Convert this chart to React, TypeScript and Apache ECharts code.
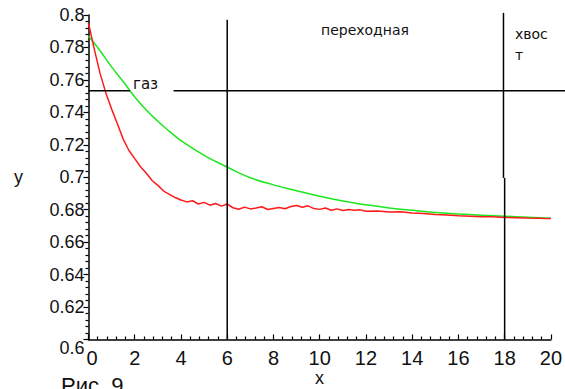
import React, { useEffect, useRef } from "react";
import * as echarts from "echarts";

// Green curve (smooth decay)
const greenX = [0, 0.5, 1, 1.5, 2, 2.5, 3, 3.5, 4, 5, 6, 7, 8, 9, 10, 11, 12, 13, 14, 15, 16, 17, 18, 19, 20];
const greenY = [0.787, 0.778, 0.768, 0.759, 0.7495, 0.7415, 0.7345, 0.7283, 0.7226, 0.7135, 0.7063, 0.6997, 0.6953, 0.6917, 0.6883, 0.6853, 0.683, 0.6811, 0.6796, 0.6783, 0.6774, 0.6766, 0.676, 0.6753, 0.6747];

// Red curve (fast decay with noise)
const redX = [
  0, 0.25, 0.5, 0.75, 1, 1.25, 1.5, 1.75, 2, 2.25, 2.5, 2.75, 3, 3.25, 3.5, 3.75,
  4, 4.25, 4.5, 4.75, 5, 5.25, 5.5, 5.75, 6, 6.25, 6.5, 6.75, 7, 7.25, 7.5, 7.75,
  8, 8.25, 8.5, 8.75, 9, 9.25, 9.5, 9.75, 10, 10.25, 10.5, 10.75, 11, 11.25, 11.5, 11.75,
  12, 12.5, 13, 13.5, 14, 14.5, 15, 15.5, 16, 16.5, 17, 17.5, 18, 18.5, 19, 19.5, 19.8, 20,
];
const redY = [
  0.795, 0.779, 0.764, 0.752, 0.742, 0.733, 0.7235, 0.7165, 0.7115, 0.7065, 0.7025, 0.698, 0.695, 0.6915, 0.6895, 0.6875,
  0.686, 0.6848, 0.6855, 0.6835, 0.6845, 0.6828, 0.6838, 0.6822, 0.6835, 0.6812, 0.6803, 0.6816, 0.6805, 0.681, 0.6818, 0.6801,
  0.6808, 0.6814, 0.6806, 0.682, 0.6826, 0.6815, 0.6824, 0.6807, 0.6802, 0.681, 0.6797, 0.6805, 0.6795, 0.6801, 0.6796, 0.6799,
  0.6791, 0.6792, 0.6786, 0.6788, 0.6779, 0.6776, 0.6771, 0.6767, 0.6763, 0.676, 0.6757, 0.6756, 0.6752, 0.6751, 0.6749, 0.6748, 0.6745, 0.6746,
];

// Reference lines in data units
const gasLevel = 0.7533;
const vLines = [
  { x: 6, y0: 0.6, y1: 0.797 },
  { x: 17.95, y0: 0.6996, y1: 0.8013 },
  { x: 18, y0: 0.6, y1: 0.6996 },
];
const hLines = [
  { y: gasLevel, x0: 0, x1: 1.8 },
  { y: gasLevel, x0: 3.68, x1: 20.65 },
];
const xTicks = { min: 0, max: 20, interval: 2 };
const yTicks = { min: 0.6, max: 0.8, interval: 0.02 };

export default function App() {
  const ref = useRef<HTMLDivElement>(null);
  useEffect(() => {
    document.body.style.margin = "0";
    const chart = echarts.init(ref.current!, undefined, { renderer: "svg" });
    const black = "#000";
    const tickFont = "'Liberation Sans', Arial, sans-serif";
    chart.setOption({
      animation: false,
      backgroundColor: "#fff",
      grid: { left: 88.5, right: 14, top: 15, bottom: 49.5 },
      xAxis: {
        type: "value",
        min: xTicks.min,
        max: xTicks.max,
        interval: xTicks.interval,
        splitLine: { show: false },
        axisLine: { lineStyle: { color: black, width: 1.5 } },
        axisTick: { inside: true, length: 5, lineStyle: { color: black, width: 1.2 } },
        minorTick: { show: true, splitNumber: 5, length: 3, lineStyle: { color: black, width: 1.2 } },
        axisLabel: {
          color: "#111",
          fontFamily: tickFont,
          fontSize: 20,
          margin: 8,
          formatter: (v: number) => (v === 0 ? "{zero|0}" : String(v)),
          rich: {
            zero: { fontFamily: tickFont, fontSize: 20, color: "#111", padding: [0, 0, 0, 7] },
          },
        },
      },
      yAxis: {
        type: "value",
        min: yTicks.min,
        max: yTicks.max,
        interval: yTicks.interval,
        splitLine: { show: false },
        axisLine: { show: true, lineStyle: { color: black, width: 1.5 } },
        axisTick: { show: true, inside: false, length: 5, lineStyle: { color: black, width: 1.2 } },
        minorTick: { show: true, splitNumber: 5, length: 3, lineStyle: { color: black, width: 1.2 } },
        axisLabel: {
          color: "#111",
          fontFamily: tickFont,
          fontSize: 18,
          margin: 4,
          formatter: (v: number) => {
            const s = String(+v.toFixed(2));
            return Math.abs(v - 0.6) < 1e-9 ? "{low|" + s + "}" : s;
          },
          rich: {
            low: { fontFamily: tickFont, fontSize: 18, color: "#111", padding: [16, 0, 0, 0] },
          },
        },
      },
      series: [
        {
          type: "line",
          data: greenX.map((x, i) => [x, greenY[i]]),
          smooth: true,
          symbol: "none",
          lineStyle: { color: "#1ee61e", width: 1.5 },
          z: 3,
        },
        {
          type: "line",
          data: redX.map((x, i) => [x, redY[i]]),
          smooth: false,
          symbol: "none",
          lineStyle: { color: "#ff1a1a", width: 1.5 },
          z: 4,
        },
      ],
    });

    const px = (x: number, y: number) => chart.convertToPixel({ gridIndex: 0 }, [x, y]) as number[];
    const lineEls: any[] = [];
    vLines.forEach((l) => {
      const a = px(l.x, l.y0);
      const b = px(l.x, l.y1);
      lineEls.push({
        type: "line",
        shape: { x1: a[0], y1: a[1], x2: b[0], y2: b[1] },
        style: { stroke: black, lineWidth: 1.5 },
        z: 5,
      });
    });
    hLines.forEach((l) => {
      const a = px(l.x0, l.y);
      const b = px(l.x1, l.y);
      lineEls.push({
        type: "line",
        shape: { x1: a[0], y1: a[1], x2: b[0], y2: b[1] },
        style: { stroke: black, lineWidth: 1.5 },
        z: 5,
      });
    });

    chart.setOption({
      graphic: [
        ...lineEls,
        { type: "text", left: 14, top: 168, style: { text: "y", font: "18px 'Liberation Sans', Arial, sans-serif", fill: "#111" } },
        { type: "text", left: 315, top: 369, style: { text: "x", font: "18px 'Liberation Sans', Arial, sans-serif", fill: "#111" } },
        { type: "text", left: 61, top: 374, style: { text: "Рис. 9", font: "22px 'Liberation Sans', Arial, sans-serif", fill: "#111" } },
        { type: "text", left: 321, top: 23, style: { text: "переходная", font: "14px 'DejaVu Sans', sans-serif", fill: "#111" } },
        { type: "text", left: 515, top: 27, style: { text: "хвос", font: "14px 'DejaVu Sans', sans-serif", fill: "#111" } },
        { type: "text", left: 515, top: 48, style: { text: "т", font: "14px 'DejaVu Sans', sans-serif", fill: "#111" } },
        { type: "text", left: 133, top: 76, style: { text: "газ", font: "15px 'DejaVu Sans', sans-serif", fill: "#111" } },
      ],
    });
    return () => chart.dispose();
  }, []);
  return <div ref={ref} style={{ width: 565, height: 389 }} />;
}
